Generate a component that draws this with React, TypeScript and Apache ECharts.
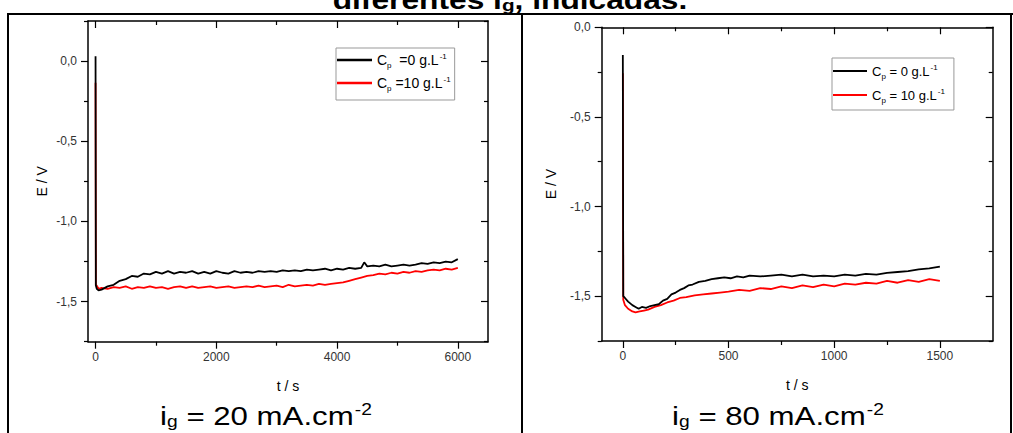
import React, { useEffect, useRef } from "react";
import * as echarts from "echarts";

// ---------- data ----------
// i_g = 20 mA.cm-2
const T20_CP0 = [0, 5, 20, 50, 100, 200, 300, 400, 500, 600, 700, 800, 900, 1000, 1100, 1200, 1300, 1400, 1500, 1600, 1700, 1800, 1900, 2000, 2100, 2200, 2300, 2400, 2500, 2600, 2700, 2800, 2900, 3000, 3100, 3200, 3300, 3400, 3500, 3600, 3700, 3800, 3900, 4000, 4100, 4200, 4300, 4400, 4450, 4500, 4600, 4700, 4800, 4900, 5000, 5100, 5200, 5300, 5400, 5500, 5600, 5700, 5800, 5900, 6000];
const E20_CP0 = [0.03, -1.40, -1.42, -1.43, -1.425, -1.405, -1.395, -1.37, -1.36, -1.34, -1.345, -1.325, -1.33, -1.315, -1.325, -1.31, -1.325, -1.315, -1.32, -1.31, -1.325, -1.315, -1.325, -1.31, -1.32, -1.325, -1.31, -1.32, -1.315, -1.32, -1.31, -1.315, -1.31, -1.315, -1.305, -1.31, -1.305, -1.31, -1.3, -1.305, -1.3, -1.295, -1.305, -1.295, -1.3, -1.29, -1.295, -1.29, -1.255, -1.28, -1.275, -1.28, -1.27, -1.28, -1.275, -1.27, -1.275, -1.27, -1.26, -1.265, -1.255, -1.26, -1.25, -1.255, -1.235];
const T20_CP10 = [0, 5, 20, 50, 100, 200, 300, 400, 500, 600, 700, 800, 900, 1000, 1100, 1200, 1300, 1400, 1500, 1600, 1700, 1800, 1900, 2000, 2100, 2200, 2300, 2400, 2500, 2600, 2700, 2800, 2900, 3000, 3100, 3200, 3300, 3400, 3500, 3600, 3700, 3800, 3900, 4000, 4100, 4200, 4300, 4400, 4500, 4600, 4700, 4800, 4900, 5000, 5100, 5200, 5300, 5400, 5500, 5600, 5700, 5800, 5900, 6000];
const E20_CP10 = [-0.135, -1.395, -1.40, -1.42, -1.415, -1.42, -1.41, -1.415, -1.405, -1.42, -1.41, -1.415, -1.405, -1.415, -1.41, -1.42, -1.41, -1.405, -1.415, -1.405, -1.415, -1.41, -1.405, -1.415, -1.41, -1.405, -1.415, -1.41, -1.405, -1.41, -1.4, -1.41, -1.405, -1.4, -1.41, -1.395, -1.405, -1.4, -1.395, -1.4, -1.39, -1.395, -1.39, -1.385, -1.38, -1.37, -1.36, -1.35, -1.34, -1.335, -1.325, -1.33, -1.32, -1.325, -1.315, -1.32, -1.31, -1.315, -1.305, -1.3, -1.305, -1.295, -1.3, -1.29];

// i_g = 80 mA.cm-2
const T80_CP0 = [0, 2, 10, 25, 45, 60, 75, 90, 110, 130, 150, 170, 190, 210, 230, 250, 270, 290, 310, 330, 360, 390, 420, 450, 480, 510, 540, 570, 600, 650, 700, 750, 800, 850, 900, 950, 1000, 1050, 1100, 1150, 1200, 1250, 1300, 1350, 1400, 1450, 1500];
const E80_CP0 = [-0.154, -1.50, -1.51, -1.53, -1.55, -1.56, -1.57, -1.56, -1.565, -1.555, -1.55, -1.545, -1.525, -1.515, -1.49, -1.48, -1.465, -1.455, -1.44, -1.435, -1.42, -1.415, -1.405, -1.40, -1.395, -1.40, -1.39, -1.395, -1.385, -1.39, -1.385, -1.38, -1.39, -1.38, -1.39, -1.385, -1.39, -1.38, -1.385, -1.375, -1.38, -1.37, -1.365, -1.36, -1.35, -1.345, -1.335];
const T80_CP10 = [0, 2, 10, 25, 45, 60, 80, 100, 120, 150, 180, 210, 240, 270, 300, 340, 380, 420, 460, 500, 550, 600, 650, 700, 750, 800, 850, 900, 950, 1000, 1050, 1100, 1150, 1200, 1250, 1300, 1350, 1400, 1450, 1500];
const E80_CP10 = [-0.257, -1.52, -1.55, -1.57, -1.585, -1.59, -1.585, -1.58, -1.575, -1.56, -1.55, -1.535, -1.525, -1.51, -1.505, -1.495, -1.49, -1.485, -1.48, -1.475, -1.465, -1.47, -1.455, -1.46, -1.445, -1.455, -1.44, -1.45, -1.435, -1.445, -1.43, -1.435, -1.425, -1.43, -1.415, -1.425, -1.41, -1.42, -1.405, -1.415];

// axes ticks
const X20_MAJOR = [0, 2000, 4000, 6000];
const X20_MINOR = [1000, 3000, 5000];
const Y20_MAJOR = [-1.5, -1.0, -0.5, 0.0];
const Y20_MINOR = [-1.75, -1.25, -0.75, -0.25, 0.25];
const X80_MAJOR = [0, 500, 1000, 1500];
const X80_MINOR = [250, 750, 1250];
const Y80_MAJOR = [-1.5, -1.0, -0.5, 0.0];
const Y80_MINOR = [-1.75, -1.25, -0.75, -0.25];

const LEG20 = ["C_p =0 g.L^-1", "C_p =10 g.L^-1"];
const LEG80 = ["C_p = 0 g.L^-1", "C_p = 10 g.L^-1"];
const LEG_RICH: Record<string, string> = {
  "C_p =0 g.L^-1": "{b|C}{s|p}{b|  =0 g.L}{u|-1}",
  "C_p =10 g.L^-1": "{b|C}{s|p}{b| =10 g.L}{u|-1}",
  "C_p = 0 g.L^-1": "{b|C}{s|p}{b| = 0 g.L}{u|-1}",
  "C_p = 10 g.L^-1": "{b|C}{s|p}{b| = 10 g.L}{u|-1}",
};

const FONT = '"Liberation Sans", Arial, Helvetica, sans-serif';

const pairs = (t: number[], e: number[]) => t.map((v, i) => [v, e[i]]);
const fmtY = (v: number) => (Math.abs(v) < 1e-9 ? "0,0" : v.toFixed(1).replace(".", ","));
const fmtX = (v: number) => String(Math.round(v));

const TICK_STYLE = { color: "#000", width: 1.2 };
const HIDDEN_LINE = { show: false, onZero: false };

function xAxes(grid: number, min: number, max: number, major: number[], minor: number[]) {
  const base = { type: "value", gridIndex: grid, min, max, splitLine: { show: false } };
  const line = { show: true, onZero: false, lineStyle: { color: "#000", width: 1.5 } };
  return [
    {
      ...base, position: "bottom", axisLine: line,
      axisTick: { show: true, customValues: major, inside: false, length: 7, lineStyle: TICK_STYLE },
      axisLabel: { show: true, customValues: major, margin: 9, fontSize: 12, color: "#333", fontFamily: FONT, formatter: fmtX },
      name: "t / s", nameLocation: "middle", nameGap: 37,
      nameTextStyle: { fontSize: 14, color: "#000", fontFamily: FONT },
    },
    {
      ...base, position: "bottom", axisLine: HIDDEN_LINE,
      axisTick: { show: true, customValues: minor, inside: false, length: 4, lineStyle: TICK_STYLE },
      axisLabel: { show: false },
    },
    {
      ...base, position: "top", axisLine: line,
      axisTick: { show: true, customValues: major, inside: true, length: 7, lineStyle: TICK_STYLE },
      axisLabel: { show: false },
    },
    {
      ...base, position: "top", axisLine: HIDDEN_LINE,
      axisTick: { show: true, customValues: minor, inside: true, length: 4, lineStyle: TICK_STYLE },
      axisLabel: { show: false },
    },
  ];
}

function yAxes(grid: number, min: number, max: number, major: number[], minor: number[], nameGap: number) {
  const base = { type: "value", gridIndex: grid, min, max, splitLine: { show: false } };
  const line = { show: true, onZero: false, lineStyle: { color: "#000", width: 1.5 } };
  return [
    {
      ...base, position: "left", axisLine: line,
      axisTick: { show: true, customValues: major, inside: false, length: 7, lineStyle: TICK_STYLE },
      axisLabel: { show: true, customValues: major, margin: 11, fontSize: 12, color: "#333", fontFamily: FONT, formatter: fmtY },
      name: "E / V", nameLocation: "middle", nameGap,
      nameTextStyle: { fontSize: 14, color: "#000", fontFamily: FONT },
    },
    {
      ...base, position: "left", axisLine: HIDDEN_LINE,
      axisTick: { show: true, customValues: minor, inside: false, length: 4, lineStyle: TICK_STYLE },
      axisLabel: { show: false },
    },
    {
      ...base, position: "right", axisLine: line,
      axisTick: { show: true, customValues: major, inside: true, length: 7, lineStyle: TICK_STYLE },
      axisLabel: { show: false },
    },
    {
      ...base, position: "right", axisLine: HIDDEN_LINE,
      axisTick: { show: true, customValues: minor, inside: true, length: 4, lineStyle: TICK_STYLE },
      axisLabel: { show: false },
    },
  ];
}

const legendRich = (size: number) => ({
  b: { fontSize: size, color: "#000", fontFamily: FONT, lineHeight: 16 },
  s: { fontSize: 8, color: "#000", fontFamily: FONT, lineHeight: 8, padding: [10, 0, 0, 0] },
  u: { fontSize: 8, color: "#000", fontFamily: FONT, lineHeight: 8, padding: [0, 0, 8, 1] },
});

const captionRich = {
  t: { fontSize: 26, fontFamily: FONT, fill: "#000", color: "#000" },
  s: { fontSize: 16, fontFamily: FONT, fill: "#000", color: "#000", padding: [12, 0, 0, 0] },
  p: { fontSize: 16, fontFamily: FONT, fill: "#000", color: "#000", padding: [0, 0, 12, 1] },
};

export default function App() {
  const ref = useRef<HTMLDivElement>(null);
  useEffect(() => {
    if (!ref.current) return;
    const chart = echarts.init(ref.current, undefined, { renderer: "svg" });
    const lineSeries = (name: string, data: number[][], color: string, xi: number, yi: number) => ({
      type: "line", name, data, xAxisIndex: xi, yAxisIndex: yi,
      showSymbol: false, symbol: "none", lineStyle: { color, width: 1.8 }, itemStyle: { color },
      z: color === "#000000" ? 3 : 2,
    });
    chart.setOption({
      animation: false,
      backgroundColor: "#ffffff",
      textStyle: { fontFamily: FONT },
      grid: [
        { left: 88, top: 21, width: 400, height: 320.7 },
        { left: 601.7, top: 27.3, width: 391, height: 313.7 },
      ],
      xAxis: [
        ...xAxes(0, -125, 6500, X20_MAJOR, X20_MINOR),
        ...xAxes(1, -100, 1750, X80_MAJOR, X80_MINOR),
      ],
      yAxis: [
        ...yAxes(0, -1.75, 0.25, Y20_MAJOR, Y20_MINOR, 39),
        ...yAxes(1, -1.75, 0, Y80_MAJOR, Y80_MINOR, 44),
      ],
      legend: [
        {
          data: LEG20, left: 336, top: 48, orient: "vertical", selectedMode: false,
          icon: "rect", itemWidth: 35, itemHeight: 2.5, itemGap: 5,
          padding: [3, 4, 8, 1], borderColor: "#999", borderWidth: 1, backgroundColor: "#fff",
          formatter: (n: string) => LEG_RICH[n], textStyle: { rich: legendRich(14) },
        },
        {
          data: LEG80, left: 832, top: 58, orient: "vertical", selectedMode: false,
          icon: "rect", itemWidth: 34, itemHeight: 2, itemGap: 6,
          padding: [4, 9, 6, 1], borderColor: "#999", borderWidth: 1, backgroundColor: "#fff",
          formatter: (n: string) => LEG_RICH[n], textStyle: { rich: legendRich(13) },
        },
      ],
      series: [
        lineSeries(LEG20[1], pairs(T20_CP10, E20_CP10), "#ff0000", 0, 0),
        lineSeries(LEG20[0], pairs(T20_CP0, E20_CP0), "#000000", 0, 0),
        lineSeries(LEG80[1], pairs(T80_CP10, E80_CP10), "#ff0000", 4, 4),
        lineSeries(LEG80[0], pairs(T80_CP0, E80_CP0), "#000000", 4, 4),
      ],
      graphic: {
        elements: [
          {
            type: "text", x: 510, y: 14, scaleX: 1.22, z: 1,
            style: {
              text: "{t|diferentes i}{s|g}{t|, indicadas.}", align: "center", verticalAlign: "bottom",
              rich: {
                t: { fontSize: 26, fontWeight: "bold", fontFamily: FONT, fill: "#000" },
                s: { fontSize: 17, fontWeight: "bold", fontFamily: FONT, fill: "#000", padding: [10, 0, 0, 0] },
              },
            },
          },
          { type: "line", z: 10, shape: { x1: 7, y1: 14, x2: 1013, y2: 14 }, style: { stroke: "#000", lineWidth: 2 } },
          { type: "line", z: 10, shape: { x1: 8, y1: 13, x2: 8, y2: 433 }, style: { stroke: "#000", lineWidth: 2 } },
          { type: "line", z: 10, shape: { x1: 522, y1: 13, x2: 522, y2: 433 }, style: { stroke: "#000", lineWidth: 2 } },
          { type: "line", z: 10, shape: { x1: 1011, y1: 13, x2: 1011, y2: 433 }, style: { stroke: "#000", lineWidth: 2 } },
          {
            type: "text", x: 266, y: 416, scaleX: 1.2,
            style: { text: "{t|i}{s|g}{t| = 20 mA.cm}{p|-2}", align: "center", verticalAlign: "middle", rich: captionRich },
          },
          {
            type: "text", x: 778, y: 416, scaleX: 1.2,
            style: { text: "{t|i}{s|g}{t| = 80 mA.cm}{p|-2}", align: "center", verticalAlign: "middle", rich: captionRich },
          },
        ],
      },
    });
    return () => chart.dispose();
  }, []);
  return <div ref={ref} style={{ position: "fixed", left: 0, top: 0, width: 1013, height: 433, background: "#fff" }} />;
}
